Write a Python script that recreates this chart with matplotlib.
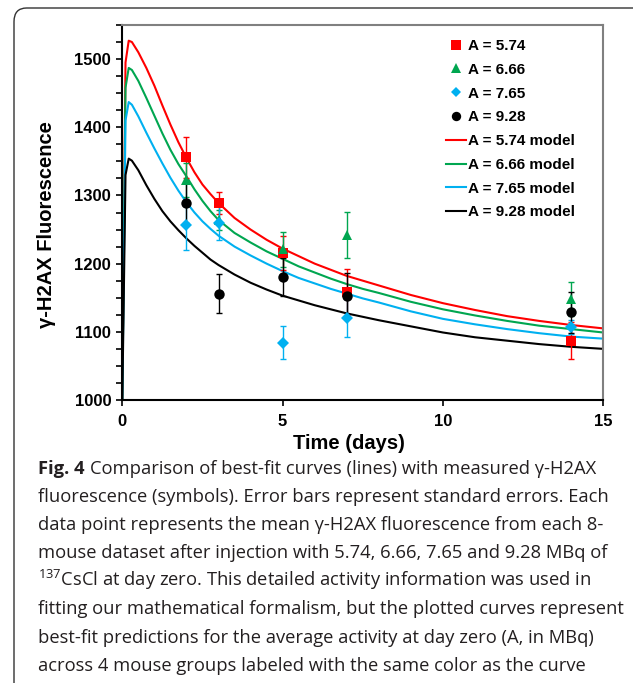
import matplotlib.pyplot as plt
from matplotlib.patches import FancyBboxPatch

plt.rcParams['font.family'] = ['Liberation Sans', 'DejaVu Sans']
plt.rcParams['mathtext.fontset'] = 'custom'
plt.rcParams['mathtext.rm'] = 'Open Sans'

# measured gamma-H2AX (mean +- s.e.) per activity group
days = [2, 3, 5, 7, 14]
red_y = [1356, 1289, 1215, 1158, 1087]
red_err = [30, 16, 25, 34, 27]
green_y = [1323, 1264, 1221, 1242, 1148]
green_err = [25, 15, 26, 34, 25]
blue_y = [1257, 1260, 1084, 1120, 1107]
blue_err = [37, 25, 24, 28, 10]
black_y = [1289, 1156, 1180, 1153, 1129]
black_err = [30, 29, 28, 33, 30]

# model curves
t_model = [0, 0.1, 0.2, 0.3, 0.5, 0.75, 1, 1.25, 1.5, 1.75, 2, 2.25, 2.5, 2.75, 3,
           3.5, 4, 4.5, 5, 5.5, 6, 6.5, 7, 7.5, 8, 9, 10, 11, 12, 13, 14, 15]
red_model = [1000, 1495, 1527, 1525, 1510, 1487, 1461, 1432, 1404, 1378, 1355, 1334, 1316, 1302, 1289,
             1267, 1250, 1235, 1222, 1211, 1200, 1191, 1182, 1175, 1168, 1154, 1142, 1132, 1123, 1116, 1110, 1105]
green_model = [1000, 1458, 1487, 1484, 1468, 1443, 1417, 1391, 1367, 1346, 1328, 1309, 1292, 1277, 1264,
               1245, 1231, 1218, 1207, 1196, 1187, 1178, 1170, 1163, 1157, 1144, 1133, 1124, 1116, 1109, 1104, 1099]
blue_model = [1000, 1410, 1437, 1433, 1416, 1392, 1369, 1347, 1326, 1307, 1290, 1275, 1262, 1251, 1241,
              1225, 1212, 1200, 1189, 1179, 1171, 1163, 1156, 1149, 1143, 1130, 1119, 1111, 1104, 1098, 1093, 1090]
black_model = [1000, 1330, 1354, 1351, 1337, 1315, 1295, 1277, 1262, 1249, 1237, 1226, 1216, 1206, 1198,
               1184, 1172, 1162, 1153, 1146, 1139, 1133, 1127, 1122, 1117, 1108, 1099, 1092, 1087, 1082, 1078, 1075]

labels = ['A = 5.74', 'A = 6.66', 'A = 7.65', 'A = 9.28']
colors = ['#ff0000', '#00a650', '#00b0f0', '#000000']
markers = ['s', '^', 'D', 'o']
msizes = [7.5, 7.5, 6, 7.5]

caption_bold = 'Fig. 4'
caption = [
    'Comparison of best-fit curves (lines) with measured γ-H2AX',
    'fluorescence (symbols). Error bars represent standard errors. Each',
    'data point represents the mean γ-H2AX fluorescence from each 8-',
    'mouse dataset after injection with 5.74, 6.66, 7.65 and 9.28 MBq of',
    r'$^{137}$CsCl at day zero. This detailed activity information was used in',
    'fitting our mathematical formalism, but the plotted curves represent',
    'best-fit predictions for the average activity at day zero (A, in MBq)',
    'across 4 mouse groups labeled with the same color as the curve',
]

W, H = 633, 683
fig = plt.figure(figsize=(W / 100, H / 100), dpi=100)

# rounded frame around figure + caption
box = FancyBboxPatch((14 / W, -0.05), 1.2, 1 - 8 / H + 0.05,
                     boxstyle='round,pad=0,rounding_size=0.02',
                     transform=fig.transFigure, facecolor='none',
                     edgecolor='#333333', linewidth=1.0, zorder=-1)
fig.patches.append(box)

ax = fig.add_axes([122.3 / W, 1 - 400 / H, 481 / W, 375 / H])

series = [(red_y, red_err, red_model), (green_y, green_err, green_model),
          (blue_y, blue_err, blue_model), (black_y, black_err, black_model)]

point_handles = []
line_handles = []
for (y, err, model), lab, c in zip(series, labels, colors):
    ln, = ax.plot(t_model, model, color=c, lw=1.5, zorder=2, label=lab + ' model')
    line_handles.append(ln)
for (y, err, model), lab, c, m, ms in zip(series, labels, colors, markers, msizes):
    ax.errorbar(days, y, yerr=err, fmt='none', ecolor=c, elinewidth=1.0,
                capsize=2, capthick=1.0, zorder=3)
    pt, = ax.plot(days, y, linestyle='none', marker=m, color=c, markersize=ms,
                  markeredgewidth=0, zorder=4, label=lab)
    point_handles.append(pt)

ax.set_xlim(0, 15)
ax.set_ylim(1000, 1550)
ax.set_xticks([0, 5, 10, 15])
ax.set_yticks([1000, 1100, 1200, 1300, 1400, 1500])
ax.set_yticks(range(1000, 1551, 25), minor=True)
ax.tick_params(axis='both', direction='out', length=4, width=1.2, labelsize=12)
ax.tick_params(axis='y', which='minor', direction='out', length=4, width=1.2)
ax.tick_params(axis='x', pad=6)
ax.tick_params(axis='y', pad=4)
for lab in ax.get_xticklabels() + ax.get_yticklabels():
    lab.set_fontweight('bold')

ax.spines['left'].set_linewidth(1.5)
ax.spines['bottom'].set_linewidth(1.5)
ax.spines['top'].set_color('#808080')
ax.spines['right'].set_color('#808080')
ax.spines['top'].set_linewidth(1.5)
ax.spines['right'].set_linewidth(1.5)

ax.set_xlabel('Time (days)', fontsize=14.5, fontweight='bold')
ax.set_ylabel('γ-H2AX Fluorescence', fontsize=14.5, fontweight='bold')
ax.xaxis.set_label_coords(0.471, -0.09)
ax.yaxis.set_label_coords(-0.138, 0.469)

handles = point_handles + line_handles
fig.legend(handles, [h.get_label() for h in handles],
           loc='upper left', bbox_to_anchor=(446 / W, 1 - 39 / H), frameon=False,
           prop={'family': 'Liberation Sans', 'weight': 'bold', 'size': 11},
           handlelength=1.3, handletextpad=0.15, labelspacing=0.64,
           borderpad=0, borderaxespad=0, markerscale=0.9)

# caption
y0 = 474
cap_size = 13.2
renderer = fig.canvas.get_renderer()
for i, line in enumerate(caption):
    yb = 1 - (y0 + i * 28.1) / H
    x = 38 / W
    if i == 0:
        tb = fig.text(x, yb, caption_bold, fontsize=cap_size, family='Open Sans',
                      fontweight='bold', color='#231f20', va='baseline', ha='left')
        x = x + (tb.get_window_extent(renderer).width + 5) / W
    fig.text(x, yb, line, fontsize=cap_size, family='Open Sans',
             color='#231f20', va='baseline', ha='left')

fig.savefig('out.png', dpi=100)
